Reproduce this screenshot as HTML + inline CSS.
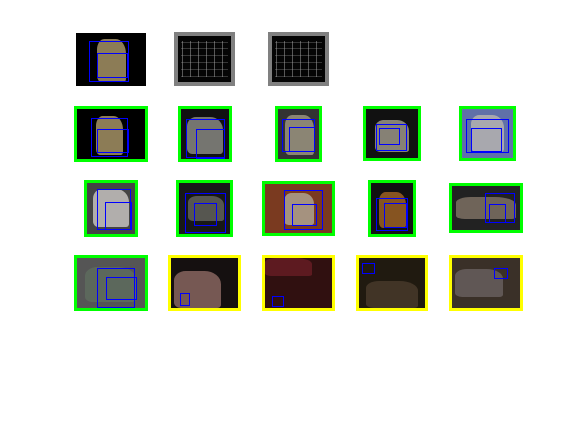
<!DOCTYPE html>
<html><head><meta charset="utf-8"><style>
body{margin:0;background:#fff;}
#fig{position:relative;width:576px;height:432px;background:#fff;overflow:hidden;font-family:"Liberation Sans",sans-serif;}
.t{position:absolute;box-sizing:border-box;overflow:hidden;}
.o{position:absolute;}
.b{position:absolute;border:1px solid #0000ff;box-sizing:border-box;}
.s{position:absolute;background:#aaa;}
</style></head><body>
<div id="fig"></div>
<script>
// [x,y,w,h,borderColor,borderWidth,bg,objColor,obj[x,y,w,h] (rel %), boxes (rel % x,y,w,h)]
var tiles=[
[76,33,70,53,'#000',0,'#000','#c8b07a',[30,12,42,80],[[19,16,57,77],[30,37,44,47]]],
[174,32,61,54,'#808080',4,'#050505','transparent',[10,10,80,80],[]],
[268,32,61,54,'#808080',4,'#050505','transparent',[10,10,80,80],[]],
[74,106,74,56,'#00ff00',3,'#000','#c8b07a',[28,14,40,78],[[20,17,55,78],[30,40,46,48]]],
[178,106,54,56,'#00ff00',3,'#111','#a0a098',[12,15,75,75],[[10,20,82,78],[32,40,60,60]]],
[275,106,47,56,'#00ff00',3,'#333','#b0a890',[18,12,70,80],[[10,20,80,65],[28,35,62,50]]],
[363,106,58,55,'#00ff00',3,'#111','#b8b0a0',[18,22,65,65],[[20,30,58,55],[25,38,40,35]]],
[459,106,57,55,'#00ff00',3,'#6070a8','#c8c0b0',[18,12,65,75],[[8,20,85,70],[18,38,60,50]]],
[84,180,54,57,'#00ff00',3,'#444','#e0dcd8',[12,12,75,75],[[20,12,72,80],[38,38,55,55]]],
[176,180,57,57,'#00ff00',3,'#181818','#707068',[18,25,70,50],[[12,20,80,78],[30,40,45,45]]],
[262,181,73,55,'#00ff00',3,'#7a3a20','#b8b8a8',[28,18,45,65],[[28,13,58,80],[40,40,37,46]]],
[368,180,48,57,'#00ff00',3,'#111','#b87028',[18,18,65,70],[[12,30,75,65],[30,40,55,48]]],
[449,183,74,50,'#00ff00',3,'#222','#908070',[6,25,88,50],[[48,15,45,70],[55,40,25,45]]],
[74,255,74,56,'#00ff00',3,'#555','#607060',[12,18,75,70],[[30,20,55,80],[43,38,45,45]]],
[168,255,73,56,'#ffff00',3,'#151010','#a07870',[5,25,70,75],[[13,70,15,25]]],
[262,255,73,56,'#ffff00',3,'#301010','#702028',[0,0,70,35],[[10,75,18,22]]],
[356,255,72,56,'#ffff00',3,'#201a10','#504030',[10,45,80,55],[[5,10,20,22]]],
[449,255,74,56,'#ffff00',3,'#3a3028','#706868',[5,22,70,55],[[62,20,20,22]]]
];
var fig=document.getElementById('fig');
tiles.forEach(function(t,i){
  var d=document.createElement('div');d.className='t';
  
  
  d.style.cssText='left:'+t[0]+'px;top:'+t[1]+'px;width:'+t[2]+'px;height:'+t[3]+'px;background:'+t[6]+';border:'+t[5]+'px solid '+t[4]+';';
  var o=document.createElement('div');o.className='o';
  
  
  var q=t[8];
  o.style.cssText='left:'+q[0]+'%;top:'+q[1]+'%;width:'+q[2]+'%;height:'+q[3]+'%;background:'+t[7]+';opacity:0.7;border-radius:25% 35% 8% 15%;';
  d.appendChild(o);
  if(t[7]==='transparent'){
    for(var k=0;k<6;k++){
      var s=document.createElement('div');s.className='s';
      
      
      s.style.cssText='left:'+(8+k*15)+'%;top:10%;width:1px;height:80%;opacity:0.5;';
      d.appendChild(s);
      var h=document.createElement('div');h.className='s';
      
      
      h.style.cssText='left:5%;top:'+(12+k*15)+'%;width:90%;height:1px;opacity:0.3;';
      d.appendChild(h);
    }
  }
  t[9].forEach(function(b){
    var e=document.createElement('div');e.className='b';
    
    
    e.style.cssText='left:'+b[0]+'%;top:'+b[1]+'%;width:'+b[2]+'%;height:'+b[3]+'%;';
    d.appendChild(e);
  });
  fig.appendChild(d);
});
</script>
</body></html>
